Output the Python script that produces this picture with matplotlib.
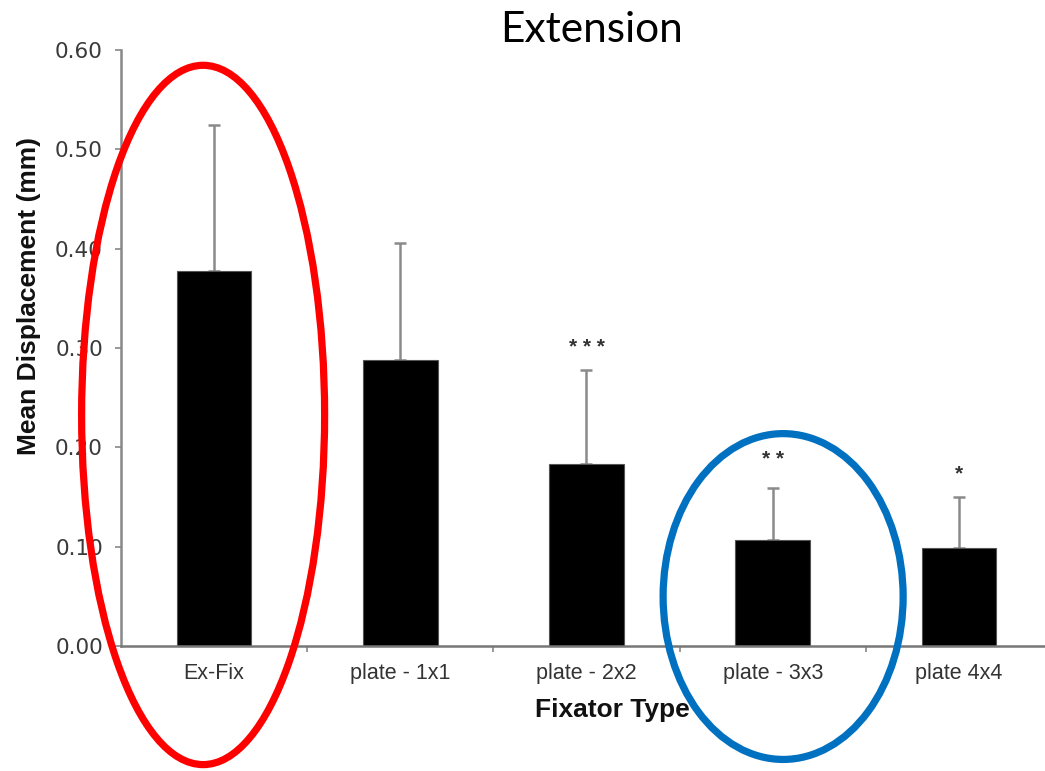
import matplotlib
matplotlib.use("Agg")
import matplotlib.pyplot as plt
from matplotlib.patches import Ellipse
import numpy as np

categories = ["Ex-Fix", "plate - 1x1", "plate - 2x2", "plate - 3x3", "plate 4x4"]
means = [0.378, 0.288, 0.183, 0.107, 0.099]
err_up = [0.147, 0.118, 0.095, 0.052, 0.051]
signif = ["", "", "***", "**", "*"]
signif_y = [None, None, 0.301, 0.188, 0.173]
yticks = [0.00, 0.10, 0.20, 0.30, 0.40, 0.50, 0.60]

plt.rcParams['font.family'] = ['Liberation Sans', 'DejaVu Sans']

W, H = 1045, 771
fig = plt.figure(figsize=(W / 100, H / 100), dpi=100)
ax = fig.add_axes([121 / W, 1 - 646 / H, (1052 - 121) / W, (646 - 50) / H])

x = np.arange(len(categories))
ax.bar(x, means, width=0.40, color="black", edgecolor="#555555", linewidth=0.8, zorder=2)
ax.errorbar(x, means, yerr=[np.zeros(len(means)), err_up], fmt="none",
            ecolor="#8a8a8a", elinewidth=1.8, capsize=4, capthick=1.8, zorder=1)

for xi, s, sy in zip(x, signif, signif_y):
    if s:
        ax.text(xi, sy, " ".join(s), ha="center", va="center", fontsize=15,
                fontweight="bold", color="#333333")

ax.set_xlim(-0.5, len(categories) - 0.5)
ax.set_ylim(0, 0.60)
ax.set_yticks(yticks)
ax.set_yticklabels([f"{v:.2f}" for v in yticks], family=["DejaVu Sans"])
ax.set_xticks(x)
ax.set_xticklabels(categories)
ax.set_xticks(np.arange(len(categories) - 1) + 0.5, minor=True)

ax.tick_params(axis="y", length=4, width=1.2, color="#888888", labelsize=15.5,
               labelcolor="#3a3a3a", pad=9)
ax.tick_params(axis="x", which="major", length=0, labelsize=15.5,
               labelcolor="#333333", pad=12)
ax.tick_params(axis="x", which="minor", length=4, width=1.2, color="#888888")

for sp in ["top", "right"]:
    ax.spines[sp].set_visible(False)
ax.spines["left"].set_color("#888888")
ax.spines["left"].set_linewidth(1.8)
ax.spines["bottom"].set_color("#777777")
ax.spines["bottom"].set_linewidth(1.8)

fig.text(29 / W, 1 - 296 / H, "Mean Displacement (mm)", rotation=90,
         ha="center", va="center", fontsize=19, fontweight="bold", color="#111111")
fig.text(612 / W, 1 - 710 / H, "Fixator Type", ha="center", va="center",
         fontsize=19, fontweight="bold", color="#111111")
fig.text(591 / W, 1 - 42 / H, "Extension", ha="center", va="baseline",
         fontsize=30.5, family=["Lato", "DejaVu Sans"], color="black")

ax.add_patch(Ellipse((-0.059, 0.2326), 1.305, 0.704, fill=False,
                     edgecolor="#ff0000", linewidth=5.2, clip_on=False, zorder=5))
ax.add_patch(Ellipse((3.056, 0.0498), 1.289, 0.328, fill=False,
                     edgecolor="#0070c0", linewidth=5.2, clip_on=False, zorder=5))

fig.savefig("out.png", dpi=100)
